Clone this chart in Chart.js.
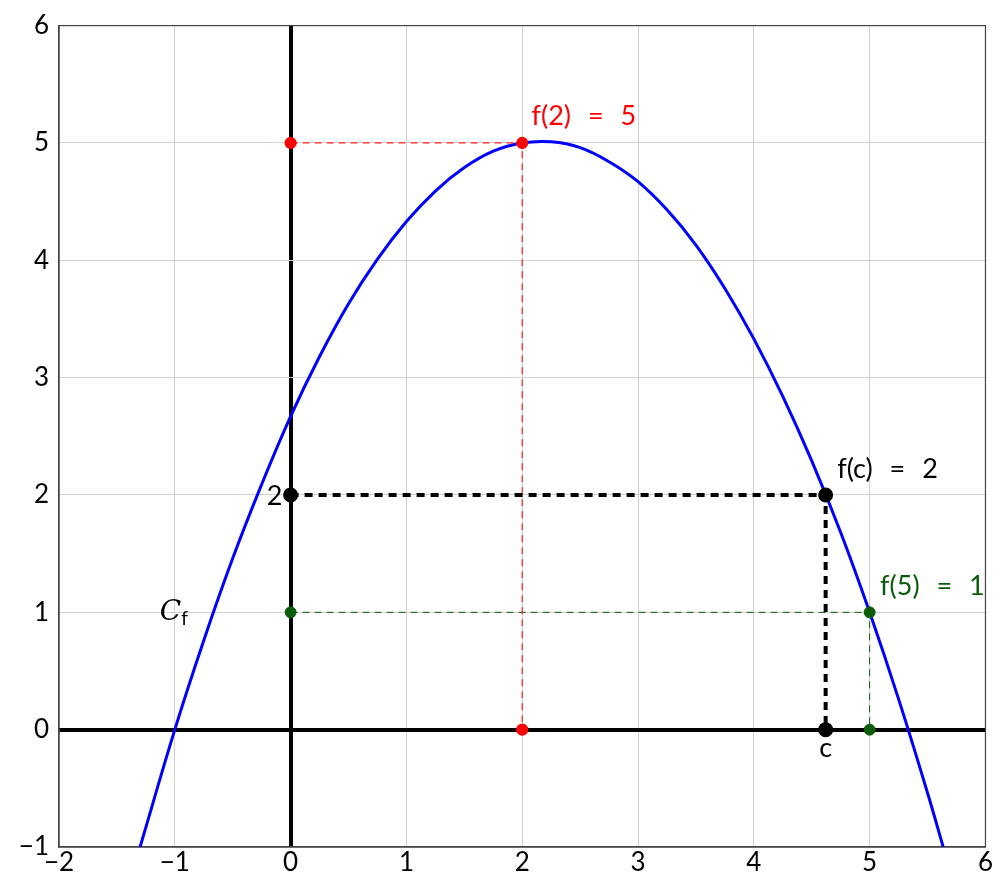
<!DOCTYPE html>
<html>
<head>
<meta charset="utf-8">
<script src="https://cdn.jsdelivr.net/npm/chart.js@4.4.0/dist/chart.umd.js"></script>
<style>
html, body { margin: 0; padding: 0; background: #fff; }
#wrap { width: 993px; height: 877px; }
</style>
</head>
<body>
<div id="wrap"><canvas id="curveChart"></canvas></div>
<script>
// curve C_f
const curveX = [-1.3, -1, -0.75, -0.5, -0.25, 0, 0.25, 0.5, 0.75, 1, 1.25, 1.5, 1.75, 2, 2.25, 2.5, 2.75, 3, 3.25, 3.5, 3.75, 4, 4.25, 4.5, 4.75, 5, 5.25, 5.5, 5.635];
const curveY = [-1.0, 0, 0.76, 1.46, 2.09, 2.67, 3.18, 3.63, 4.01, 4.33, 4.59, 4.79, 4.93, 5.0, 5.01, 4.96, 4.84, 4.67, 4.43, 4.13, 3.76, 3.33, 2.84, 2.29, 1.68, 1.0, 0.26, -0.54, -1.0];

// marked points and their guide lines
const redX = [0, 2, 2];
const redY = [5, 5, 0];
const greenX = [0, 5, 5];
const greenY = [1, 1, 0];
const blackX = [0, 4.62, 4.62];
const blackY = [2, 2, 0];

const xTicks = [-2, -1, 0, 1, 2, 3, 4, 5, 6];
const yTicks = [-1, 0, 1, 2, 3, 4, 5, 6];

const RED = '#ff0000';
const GREEN = '#0a5c0a';
const BLUE = '#0000ff';
const FONT = 'Lato';
const SP = '\u2002\u2009';

const toPoints = (xs, ys) => xs.map((x, i) => ({ x: x, y: ys[i] }));

const textLabels = [
    { text: 'f(2)' + SP + '=' + SP + '5', x: 2.08, y: 5.23, color: RED, align: 'left' },
    { text: 'f(c)' + SP + '=' + SP + '2', x: 4.72, y: 2.22, color: '#000', align: 'left' },
    { text: 'f(5)' + SP + '=' + SP + '1', x: 5.09, y: 1.22, color: GREEN, align: 'left' },
    { text: '2', x: -0.07, y: 1.99, color: '#000', align: 'right' },
    { text: 'c', x: 4.62, y: -0.16, color: '#000', align: 'center' },
];

const labelPlugin = {
    id: 'labelPlugin',
    afterDatasetsDraw(chart) {
        const ctx = chart.ctx;
        const sx = chart.scales.x, sy = chart.scales.y;
        ctx.save();
        ctx.font = '27px ' + FONT;
        ctx.textBaseline = 'middle';
        textLabels.forEach(l => {
            ctx.fillStyle = l.color;
            ctx.textAlign = l.align;
            ctx.fillText(l.text, sx.getPixelForValue(l.x), sy.getPixelForValue(l.y));
        });
        // curve name C_f
        const cx = sx.getPixelForValue(-1.13), cy = sy.getPixelForValue(1.0);
        ctx.fillStyle = '#000';
        ctx.textAlign = 'left';
        ctx.font = 'italic 28px "DejaVu Serif"';
        ctx.fillText('C', cx, cy);
        const w = ctx.measureText('C').width;
        ctx.font = '19px ' + FONT;
        ctx.fillText('f', cx + w, cy + 7);
        ctx.restore();
    }
};

const gridColor = ctx => {
    const v = ctx.tick ? ctx.tick.value : null;
    if (v === 0) return '#000';
    return '#d0d0d0';
};
const gridWidth = ctx => (ctx.tick && ctx.tick.value === 0 ? 4 : 1);

const fmt = v => (v < 0 ? '\u2212' + Math.abs(v) : String(v));

new Chart(document.getElementById('curveChart'), {
    type: 'scatter',
    data: {
        datasets: [
            {
                data: toPoints(blackX, blackY),
                showLine: true,
                borderColor: '#000',
                borderWidth: 4,
                borderDash: [8, 6],
                pointRadius: 5.5,
                pointBackgroundColor: '#000',
                pointBorderColor: '#000',
            },
            {
                data: toPoints(redX, redY),
                showLine: true,
                borderColor: 'rgba(255,0,0,0.85)',
                borderWidth: 1.2,
                borderDash: [7, 5],
                pointRadius: 5.5,
                pointBackgroundColor: RED,
                pointBorderColor: RED,
            },
            {
                data: toPoints(greenX, greenY),
                showLine: true,
                borderColor: GREEN,
                borderWidth: 1,
                borderDash: [7, 5],
                pointRadius: 5.5,
                pointBackgroundColor: GREEN,
                pointBorderColor: GREEN,
            },
            {
                data: toPoints(curveX, curveY),
                showLine: true,
                borderColor: BLUE,
                borderWidth: 3,
                tension: 0.4,
                pointRadius: 0,
            },
        ]
    },
    options: {
        responsive: true,
        maintainAspectRatio: false,
        animation: false,
        layout: { autoPadding: false, padding: { top: 23, right: 7, left: 0, bottom: 0 } },
        plugins: { legend: { display: false }, tooltip: { enabled: false } },
        scales: {
            x: {
                type: 'linear',
                min: -2,
                max: 6,
                afterBuildTicks: s => { s.ticks = xTicks.map(v => ({ value: v })); },
                afterFit: s => { s.height = 30; },
                ticks: { callback: fmt, color: '#000', font: { family: FONT, size: 26 }, padding: 0, maxRotation: 0 },
                grid: { color: gridColor, lineWidth: gridWidth, drawTicks: false },
                border: { display: true, color: '#444', width: 1.2 },
            },
            y: {
                type: 'linear',
                min: -1,
                max: 6,
                afterBuildTicks: s => { s.ticks = yTicks.map(v => ({ value: v })); },
                afterFit: s => { s.width = 59; },
                ticks: { callback: fmt, color: '#000', font: { family: FONT, size: 26 }, padding: 10 },
                grid: { color: gridColor, lineWidth: gridWidth, drawTicks: false },
                border: { display: true, color: '#444', width: 1.2 },
            }
        }
    },
    plugins: [labelPlugin, {
        id: 'frame',
        beforeDatasetsDraw(chart) {
            const a = chart.chartArea, ctx = chart.ctx;
            ctx.save();
            ctx.strokeStyle = '#444';
            ctx.lineWidth = 1.2;
            ctx.strokeRect(a.left, a.top, a.right - a.left, a.bottom - a.top);
            ctx.restore();
        }
    }]
});
</script>
</body>
</html>
